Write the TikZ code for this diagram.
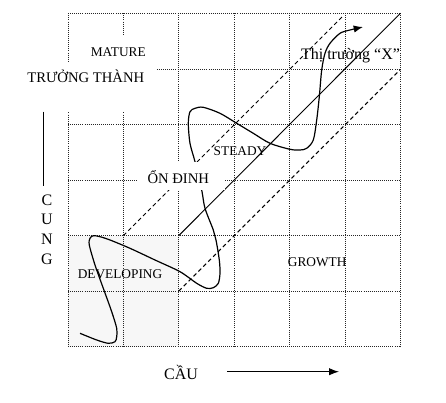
\documentclass[tikz,border=0pt]{standalone}
\usepackage{fontspec}
\setmainfont{Liberation Serif}
\usetikzlibrary{arrows.meta}
\definecolor{devgray}{RGB}{247,247,247}
\begin{document}
\begin{tikzpicture}[x=0.75pt,y=-0.75pt,
  gridline/.style={black!85,densely dotted,line width=0.55pt},
  dashline/.style={black,line width=0.7pt,dash pattern=on 3pt off 2.2pt},
  mainline/.style={black,line width=0.7pt},
  wave/.style={black,line width=0.9pt},
  maskbox/.style={fill=white},
  lbl/.style={anchor=base,inner sep=0pt,font=\fontsize{10}{12}\selectfont},
  vlbl/.style={anchor=base,inner sep=0pt,font=\fontsize{11}{13}\selectfont},
  biglbl/.style={anchor=base,inner sep=0pt,font=\fontsize{12}{14}\selectfont}]
\useasboundingbox (0,0) rectangle (446,403);
% shaded developing area
\fill[devgray] (68,235.6) rectangle (178.8,346.7);
% grid
\foreach \i in {0,...,6} {
  \draw[gridline] ({68+55.4*\i},13.3) -- ({68+55.4*\i},346.7);
  \draw[gridline] (68,{13.3+55.57*\i}) -- (400.4,{13.3+55.57*\i});
}
% corridor lines
\coordinate (d1s) at (123.4,235.6);
\coordinate (d1e) at (343.2,15.8);
\coordinate (d2s) at (178.8,291.1);
\coordinate (d2e) at (400.4,69.5);
\coordinate (ms) at (178.8,235.6);
\coordinate (me) at (400.4,13.3);
\draw[dashline] (d1s) -- (d1e);
\draw[dashline] (d2s) -- (d2e);
\draw[mainline] (ms) -- (me);
% wave
\draw[wave,-{Latex[length=7pt,width=5.5pt]}] plot[smooth,tension=0.5] coordinates {
 (80,333.3) (96.7,340) (108.3,343.3) (115,341.7) (116.7,336.7) (116.7,328.3)
 (111.7,311.7) (103.3,288.3) (95,265) (89.3,245) (90,238.3) (93.3,235.7)
 (100,236.7) (110,240) (130,248.3) (155,260) (180,271.7) (196.7,283.3)
 (206.7,288.3) (213.3,287.7) (218.3,283.3) (220,273.3) (219.3,260) (216,240)
 (213.3,230) (205,208.3) (201.7,190) (195,161.7) (190,143.3) (188.3,123.3)
 (190,111.7) (195,108.3) (203.3,107.3) (220,113.3) (236.7,123.3) (253.3,133.3)
 (270,143.3) (290,149.3) (300,150) (306.7,148.3) (313.3,140) (316.7,120)
 (319.3,96.7) (321.7,70) (325,53.3) (330,43.3) (340,33.3) (350,30) (363,27)};
% white text boxes
\fill[maskbox] (80,35) rectangle (165,62);
\fill[maskbox] (20,62) rectangle (155.5,112);
\fill[maskbox] (138,162) rectangle (225,190);
% labels
\node[lbl] (mature) at (118.3,56.7) {MATURE};
\node[vlbl] (truongthanh) at (85.8,82.7) {TRƯỞNG THÀNH};
\node[vlbl] (ondinh) at (178.3,183.3) {ỔN ĐINH};
\node[lbl] (steady) at (240,155) {STEADY};
\node[lbl] (developing) at (120,278.3) {DEVELOPING};
\node[lbl] (growth) at (317.2,266.7) {GROWTH};
\node[biglbl] (thitruong) at (350.5,60) {Thị trường “X”};
\node[biglbl] (cau) at (181,379.3) {CẦU};
\node[biglbl] (cc) at (47,205) {C};
\node[biglbl] (cu) at (47,224.7) {U};
\node[biglbl] (cn) at (47,244.3) {N};
\node[biglbl] (cg) at (47,264) {G};
% axis marks
\coordinate (vt) at (43.3,111.7);
\coordinate (vb) at (43.3,185.7);
\draw[mainline] (vt) -- (vb);
\coordinate (ax0) at (227,371.7);
\coordinate (ax1) at (339,371.7);
\draw[mainline,-{Latex[length=7.5pt,width=5.5pt]}] (ax0) -- (ax1);
\end{tikzpicture}
\end{document}
